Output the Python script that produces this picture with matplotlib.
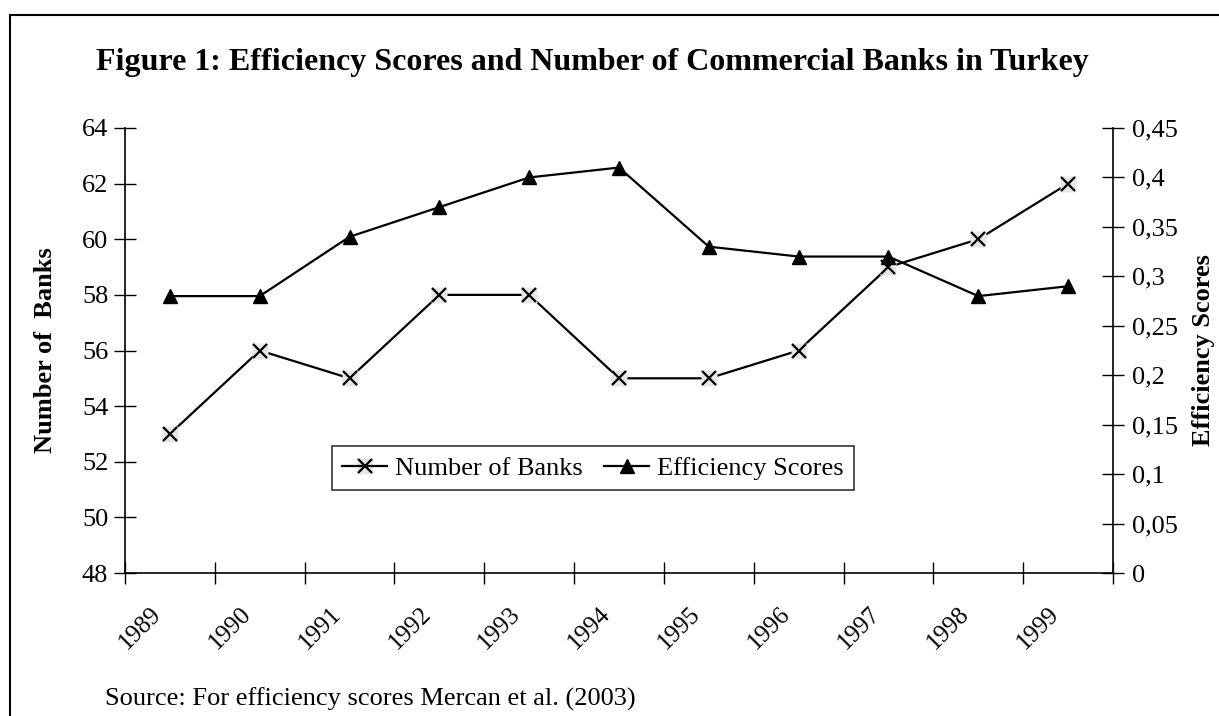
import matplotlib
matplotlib.use("Agg")
import matplotlib.pyplot as plt
from matplotlib.lines import Line2D
from matplotlib.transforms import ScaledTranslation, blended_transform_factory
from matplotlib.ticker import FixedLocator, FuncFormatter, NullFormatter

years = ["1989", "1990", "1991", "1992", "1993", "1994", "1995", "1996", "1997", "1998", "1999"]
num_banks = [53, 56, 55, 58, 58, 55, 55, 56, 59, 60, 62]
efficiency = [0.28, 0.28, 0.34, 0.37, 0.40, 0.41, 0.33, 0.32, 0.32, 0.28, 0.29]

left_ticks = [48, 50, 52, 54, 56, 58, 60, 62, 64]
right_ticks = [0, 0.05, 0.1, 0.15, 0.2, 0.25, 0.3, 0.35, 0.4, 0.45]

plt.rcParams["font.family"] = ["Liberation Serif", "DejaVu Serif"]

fig = plt.figure(figsize=(12.19, 7.16), dpi=100)
W, H = 1219, 716
ax = fig.add_axes([125 / W, 1 - 573 / H, (1113 - 125) / W, (573 - 128) / H])
ax2 = ax.twinx()

x = [i + 0.5 for i in range(len(years))]

# Number of banks: line with x markers on a light grey square
ax.plot(x, num_banks, color="black", lw=1.6, zorder=2)
ax.plot(x, num_banks, ls="none", marker="s", ms=12, mfc="#e6e6e6", mec="none", zorder=3)
ax.plot(x, num_banks, ls="none", marker="x", ms=10, mew=1.6, color="black", zorder=4)

# Efficiency scores on secondary axis
ax2.plot(x, efficiency, color="black", lw=1.6, marker="^", ms=10, mfc="black", mec="black")

ax.set_xlim(0, len(years))
ax.set_ylim(48, 64)
ax2.set_ylim(0, 0.45)

ax.set_yticks(left_ticks)
ax.set_yticklabels([str(t) for t in left_ticks])
ax2.set_yticks(right_ticks)
ax2.yaxis.set_major_formatter(FuncFormatter(lambda v, p: ("%g" % v).replace(".", ",")))

ax.xaxis.set_major_locator(FixedLocator(list(range(len(years) + 1))))
ax.xaxis.set_major_formatter(NullFormatter())

# Rotated year labels under each category
base = blended_transform_factory(ax.transData, ax.transAxes)
offset = ScaledTranslation(-12 / 100, -38 / 100, fig.dpi_scale_trans)
for xi, yr in zip(x, years):
    ax.text(xi, 0, yr, transform=base + offset, rotation=45, rotation_mode="anchor",
            ha="right", va="center", fontsize=18)

ax.tick_params(axis="x", which="major", direction="inout", length=16, width=1)
ax.tick_params(axis="y", direction="inout", length=16, width=1, labelsize=19, pad=4)
ax2.tick_params(axis="y", direction="inout", length=16, width=1, labelsize=19, pad=6)

for a in (ax, ax2):
    a.spines["top"].set_visible(False)
    for s in ("left", "right", "bottom"):
        a.spines[s].set_linewidth(1.2)
ax2.spines["left"].set_visible(False)
ax2.spines["bottom"].set_visible(False)
ax.spines["right"].set_visible(False)

ax.set_ylabel("Number of  Banks", fontsize=19, fontweight="bold", labelpad=18)
ax2.set_ylabel("Efficiency Scores", fontsize=19, fontweight="bold", labelpad=10)

fig.text(592 / W, 1 - 70 / H, "Figure 1: Efficiency Scores and Number of Commercial Banks in Turkey",
         ha="center", va="baseline", fontsize=23, fontweight="bold")
fig.text(105 / W, 1 - 706 / H, "Source: For efficiency scores Mercan et al. (2003)",
         ha="left", va="baseline", fontsize=19)

# Frame around the figure
fig.add_artist(Line2D([10 / W, 1], [1 - 15 / H, 1 - 15 / H], color="black", lw=1.5, transform=fig.transFigure))
fig.add_artist(Line2D([10 / W, 10 / W], [0, 1 - 15 / H], color="black", lw=1.5, transform=fig.transFigure))

h_bg = Line2D([], [], ls="none", marker="s", ms=12, mfc="#e6e6e6", mec="none")
h_x = Line2D([], [], color="black", lw=1.6, marker="x", ms=10, mew=1.6)
h_tri = Line2D([], [], color="black", lw=1.6, marker="^", ms=10, mfc="black")
leg = fig.legend([(h_bg, h_x), h_tri], ["Number of Banks", "Efficiency Scores"],
                 loc="center", bbox_to_anchor=(593 / W, 1 - 468 / H), ncol=2,
                 fontsize=19, frameon=True, fancybox=False, edgecolor="black",
                 handlelength=1.7, handletextpad=0.3, columnspacing=0.8,
                 borderpad=0.4, borderaxespad=0)
leg.get_frame().set_linewidth(1.2)

fig.savefig("out.png", dpi=100)
